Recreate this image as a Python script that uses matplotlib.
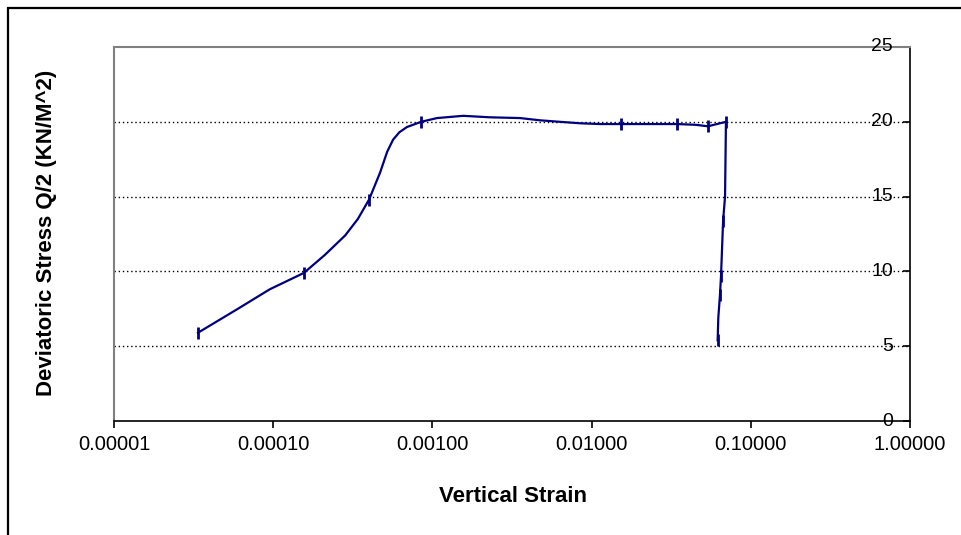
import matplotlib.pyplot as plt
from matplotlib.patches import Rectangle
from matplotlib.ticker import FixedLocator, NullLocator

plt.rcParams['font.family'] = ['Liberation Sans', 'DejaVu Sans']

# test curve (vertical strain vs deviatoric stress)
strain = [3.37e-5, 6.0e-5, 9.5e-5, 1.56e-4, 2.11e-4, 2.83e-4, 3.4e-4, 4.0e-4,
          4.69e-4, 5.2e-4, 5.66e-4, 6.2e-4, 6.92e-4, 8.5e-4, 1.07e-3, 1.56e-3,
          2.30e-3, 3.55e-3, 4.74e-3, 6.3e-3, 8.5e-3, 1.13e-2, 1.53e-2, 3.43e-2,
          4.5e-2, 5.38e-2, 6.98e-2, 6.89e-2, 6.70e-2, 6.50e-2, 6.40e-2,
          6.25e-2, 6.19e-2]
stress = [5.9, 7.5, 8.8, 9.9, 11.1, 12.4, 13.5, 14.8,
          16.6, 18.0, 18.8, 19.3, 19.65, 20.0, 20.25, 20.4,
          20.3, 20.25, 20.1, 20.0, 19.9, 19.85, 19.85, 19.85,
          19.8, 19.7, 20.0, 15.0, 13.4, 9.7, 8.4,
          6.9, 5.4]

# points carrying a marker
mark_strain = [3.37e-5, 1.56e-4, 4.0e-4, 8.5e-4, 1.53e-2, 3.43e-2, 5.38e-2,
               6.98e-2, 6.70e-2, 6.50e-2, 6.40e-2, 6.19e-2]
mark_stress = [5.9, 9.9, 14.8, 20.0, 19.85, 19.85, 19.7,
               20.0, 13.4, 9.7, 8.4, 5.4]

x_ticks = [1e-5, 1e-4, 1e-3, 1e-2, 1e-1, 1.0]
y_ticks = [0, 5, 10, 15, 20, 25]

W, H = 961, 535
fig = plt.figure(figsize=(W / 100, H / 100), dpi=100)

# outer chart frame (cut off on right and bottom)
fig.add_artist(Rectangle((7.5 / W, -0.1), 1.2, 1 - 8.5 / H + 0.1,
                         transform=fig.transFigure, fill=False,
                         edgecolor='black', linewidth=1.6, clip_on=False))

ax = fig.add_axes([114 / W, 1 - 421 / H, (910 - 114) / W, (421 - 47) / H])
ax.set_xscale('log')
ax.set_xlim(1e-5, 1.0)
ax.set_ylim(0, 25)

# gridlines
for v in y_ticks[1:-1]:
    ax.axhline(v, color='black', linestyle=(0, (1, 2)), linewidth=1.0, zorder=1)

ax.plot(strain, stress, color='#000080', linewidth=1.6, zorder=3)
ax.plot(mark_strain, mark_stress, linestyle='none', marker='|',
        markersize=9, markeredgewidth=2.0, color='#000080', zorder=4)

for side in ['left', 'top']:
    ax.spines[side].set_color('#808080')
    ax.spines[side].set_linewidth(1.5)
for side in ['right', 'bottom']:
    ax.spines[side].set_color('black')
    ax.spines[side].set_linewidth(1.2)

ax.xaxis.set_major_locator(FixedLocator(x_ticks))
ax.xaxis.set_minor_locator(NullLocator())
ax.set_xticklabels(['%.5f' % t for t in x_ticks])
ax.tick_params(axis='x', direction='out', length=5, width=1.2, pad=5,
               labelsize=14.5)

ax.yaxis.set_major_locator(FixedLocator(y_ticks))
ax.tick_params(axis='y', left=False, right=True, labelleft=False,
               labelright=False, direction='in', length=5, width=1.2)
for v in y_ticks:
    ax.annotate(str(v), xy=(1, v), xycoords=('axes fraction', 'data'),
                xytext=(-17, 0), textcoords='offset pixels',
                ha='right', va='center', fontsize=14, zorder=5)

fig.text(513 / W, 1 - 497 / H, 'Vertical Strain', ha='center', va='center',
         fontsize=16, fontweight='bold')
fig.text(47 / W, 1 - 233 / H, 'Deviatoric Stress Q/2 (KN/M^2)', ha='center',
         va='center', rotation=90, fontsize=16, fontweight='bold')

fig.savefig('out.png', dpi=100)
